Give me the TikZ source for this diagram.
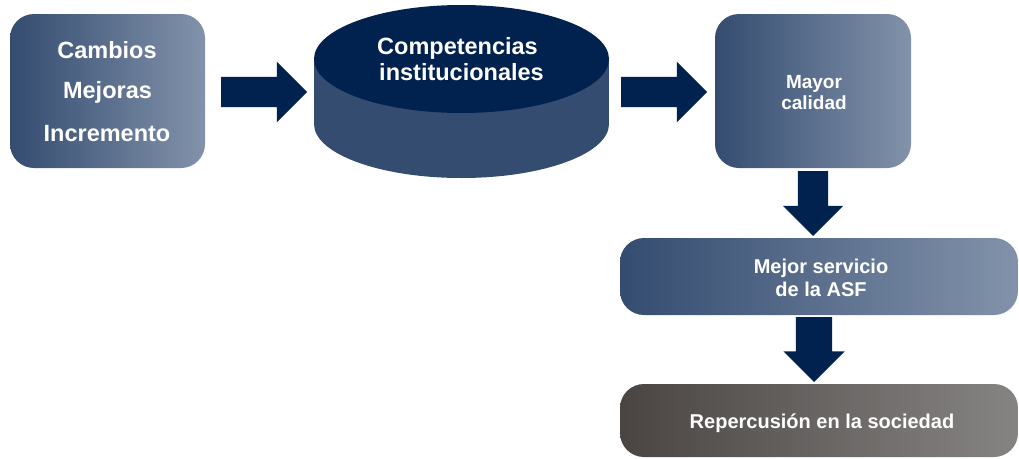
\documentclass[tikz,border=0pt]{standalone}
\usepackage{fontspec}
\setmainfont{Liberation Sans}
\usetikzlibrary{shapes.arrows}
\definecolor{navy}{RGB}{1,34,78}
\definecolor{slate}{RGB}{52,76,112}
\definecolor{slatelight}{RGB}{130,146,170}
\definecolor{grayL}{RGB}{74,69,67}
\definecolor{grayR}{RGB}{134,132,131}
\tikzset{
  bluebox/.style={rectangle, rounded corners=24pt, left color=slate, right color=slatelight, draw=none, inner sep=0pt, outer sep=0pt},
  graybox/.style={rectangle, rounded corners=24pt, left color=grayL, right color=grayR, draw=none, inner sep=0pt, outer sep=0pt},
  lbl/.style={text=white, anchor=base, inner sep=0pt, font=\bfseries\fontsize{#1}{#1}\selectfont},
  barrow/.style={single arrow, fill=navy, draw=none, inner sep=0pt, outer sep=0pt, single arrow tip angle=90, single arrow head indent=0pt, anchor=tail},
}
\begin{document}
\begin{tikzpicture}[x=1pt,y=-1pt]
\useasboundingbox (0,0) rectangle (1019,458);
% boxes
\node[bluebox, minimum width=195pt, minimum height=154pt] (b1) at (107.5,91) {};
\node[bluebox, minimum width=196pt, minimum height=154pt] (b3) at (813,91) {};
\node[bluebox, minimum width=398pt, minimum height=77pt] (b4) at (819,276.5) {};
\node[graybox, minimum width=398pt, minimum height=73pt] (b5) at (819,420.5) {};
% cylinder
\fill[slate] (461.5,124) ellipse [x radius=147.5pt, y radius=54pt];
\fill[slate] (314,59) rectangle (609,124);
\fill[navy] (461.5,59) ellipse [x radius=147.5pt, y radius=54pt];
\coordinate (cyl) at (461.5,91);
% labels
\node[lbl=23.5] (t1a) at (107,58) {Cambios};
\node[lbl=23.5] (t1b) at (107.5,98) {Mejoras};
\node[lbl=23.5] (t1c) at (107,141.5) {Incremento};
\node[lbl=23.5] (t2a) at (457.5,54) {Competencias};
\node[lbl=23.5] (t2b) at (461.5,80.5) {institucionales};
\node[lbl=19] (t3a) at (814,88) {Mayor};
\node[lbl=19] (t3b) at (814,109.5) {calidad};
\node[lbl=20] (t4a) at (821,273) {Mejor servicio};
\node[lbl=20] (t4b) at (821,296) {de la ASF};
\node[lbl=20] (t5) at (822,428) {Repercusión en la sociedad};
% block arrows
\node[barrow, minimum height=86pt, inner ysep=15pt, single arrow head extend=15pt] (a1) at (221,92) {};
\node[barrow, minimum height=86pt, inner ysep=15pt, single arrow head extend=15pt] (a2) at (621,92) {};
\node[barrow, shape border rotate=270, minimum height=65pt, inner xsep=15pt, single arrow head extend=15pt] (a3) at (813,171) {};
\node[barrow, shape border rotate=270, minimum height=65pt, inner xsep=18pt, single arrow head extend=12.5pt] (a4) at (814,317) {};
\end{tikzpicture}
\end{document}
